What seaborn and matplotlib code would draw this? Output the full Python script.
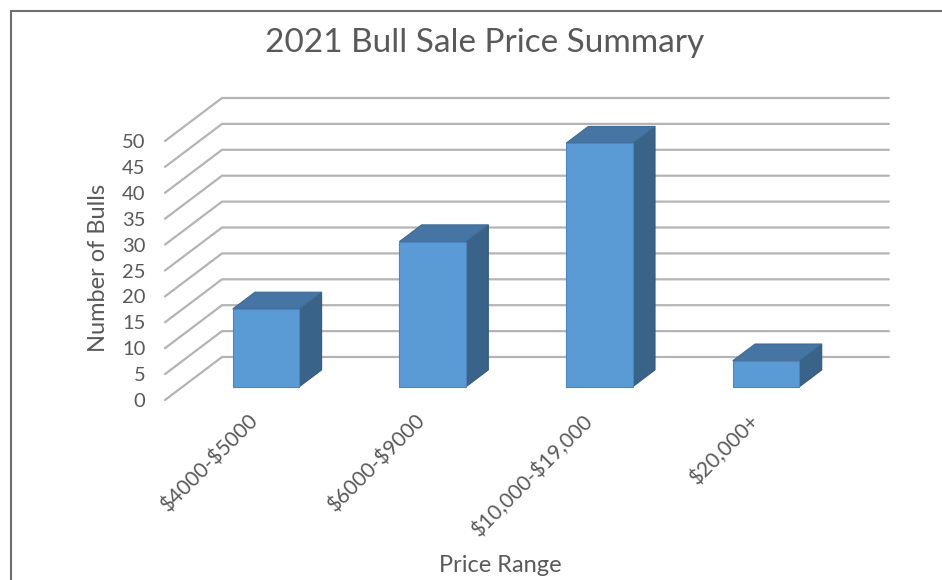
import matplotlib
matplotlib.use("Agg")
import matplotlib.pyplot as plt
import matplotlib.transforms as mtransforms
from matplotlib.patches import Polygon
from matplotlib.lines import Line2D
import seaborn as sns
import pandas as pd

# data
price_ranges = ["$4000-$5000", "$6000-$9000", "$10,000-$19,000", "$20,000+"]
bull_counts = [15, 28, 47, 5]
y_ticks = list(range(0, 55, 5))

sns.set_theme(style="white")
plt.rcParams["font.family"] = ["Lato", "DejaVu Sans"]
plt.rcParams["text.parse_math"] = False  # keep the $ signs literal

TEXT = "#595959"
GRID = "#b4b4b4"
FRONT = "#5b9bd5"
TOP = "#4674a3"
SIDE = "#3a6389"

# fake 3d: depth vector (data units) and where the bars sit in depth
DX, DY = 0.342, 8.3
Z_FRONT, Z_BACK = 0.31, 0.70
BAR_W = 0.40


def proj(x, v, z):
    return (x + z * DX, v + z * DY)


df = pd.DataFrame({"range": price_ranges, "bulls": bull_counts})

fig = plt.figure(figsize=(9.42, 5.8), dpi=100)
ax = fig.add_axes([165 / 942, 180 / 580, 733.5 / 942, 310.8 / 580])
ax.set_facecolor("none")

# walls: diagonal lines on the left wall and horizontal lines on the back wall
for v in y_ticks:
    x0, y0 = proj(-0.5, v, 0)
    x1, y1 = proj(-0.5, v, 1)
    x2, _ = proj(3.5, v, 1)
    ax.plot([x0, x1, x2], [y0, y1, y1], color=GRID, lw=1.6, zorder=1,
            solid_joinstyle="miter", clip_on=False)

# front faces of the bars
sns.barplot(data=df, x="range", y="bulls", ax=ax, width=BAR_W, color=FRONT,
            saturation=1, edgecolor="#4a86bd", linewidth=0.8, zorder=4)
shift = mtransforms.Affine2D().translate(Z_FRONT * DX, Z_FRONT * DY)
for p in ax.patches:
    p.set_transform(shift + ax.transData)

# tops and right sides
for i, h in enumerate(bull_counts):
    xa, xb = i - BAR_W / 2, i + BAR_W / 2
    top = [proj(xa, h, Z_FRONT), proj(xb, h, Z_FRONT),
           proj(xb, h, Z_BACK), proj(xa, h, Z_BACK)]
    side = [proj(xb, 0, Z_FRONT), proj(xb, h, Z_FRONT),
            proj(xb, h, Z_BACK), proj(xb, 0, Z_BACK)]
    ax.add_patch(Polygon(side, closed=True, facecolor=SIDE, edgecolor="#345a7e",
                         lw=0.8, zorder=3))
    ax.add_patch(Polygon(top, closed=True, facecolor=TOP, edgecolor="#3f6b97",
                         lw=0.8, zorder=3))

ax.set_xlim(-0.5, 3.9)
ax.set_ylim(0, 60)
ax.set_yticks(y_ticks)
ax.tick_params(axis="y", length=0, pad=14, labelsize=14.5, labelcolor=TEXT)
ax.tick_params(axis="x", length=0, pad=8, labelsize=15, labelcolor=TEXT)
ax.set_xticks(range(len(price_ranges)))
ax.set_xticklabels(price_ranges, rotation=45, ha="right", rotation_mode="anchor")
for s in ax.spines.values():
    s.set_visible(False)

ax.set_ylabel("Number of Bulls", fontsize=17, color=TEXT)
ax.yaxis.set_label_coords(-0.077, 0.425)
ax.set_xlabel("Price Range", fontsize=17, color=TEXT)
ax.xaxis.set_label_coords((500 - 165) / 733.5, -0.500)

fig.text(485 / 942, 1 - 43 / 580, "2021 Bull Sale Price Summary", ha="center",
         va="center", fontsize=24, color=TEXT)

# chart frame (top and left edges visible in the crop)
fig.add_artist(Line2D([11 / 942, 1], [1 - 11 / 580, 1 - 11 / 580],
                      color="#6f6f6f", lw=1.5))
fig.add_artist(Line2D([11 / 942, 11 / 942], [0, 1 - 11 / 580],
                      color="#6f6f6f", lw=1.5))

fig.savefig("out.png", dpi=100)
